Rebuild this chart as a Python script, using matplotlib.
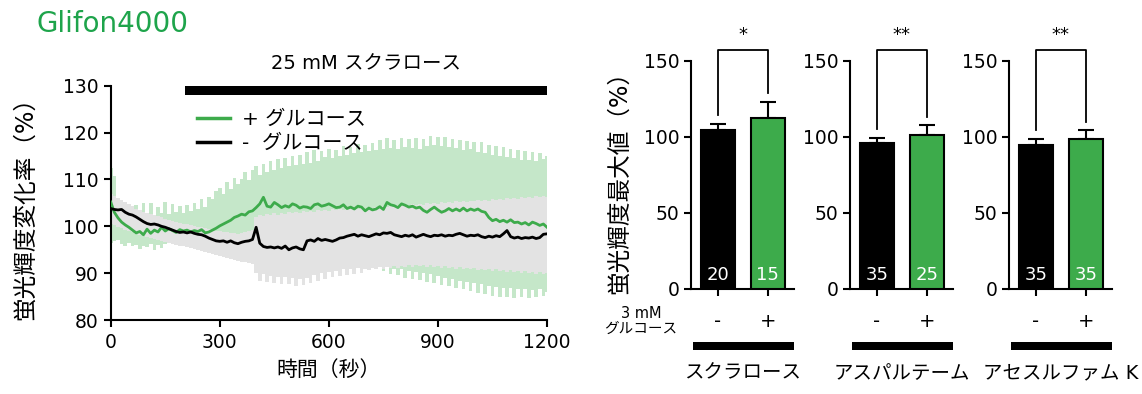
import numpy as np
import matplotlib
matplotlib.use("Agg")
import matplotlib.pyplot as plt

plt.rcParams['font.family'] = ['DejaVu Sans', 'Noto Sans CJK JP']

# ---------------- data ----------------
time_s = list(range(0, 1201, 10))

black_mean = [
    103.8, 103.6, 103.5, 103.6, 103.0, 102.6, 102.4, 102.0, 101.5, 101.0,
    100.6, 100.4, 100.5, 100.3, 100.0, 99.8, 99.5, 99.2, 98.9, 98.7,
    98.8, 98.6, 98.8, 98.5, 98.3, 98.2, 97.9, 97.5, 97.2, 96.9,
    96.8, 96.9, 96.6, 96.9, 96.5, 96.3, 96.6, 96.8, 96.9, 97.2,
    99.8, 96.4, 95.7, 95.5, 95.6, 95.4, 95.6, 95.3, 95.8, 95.0,
    95.4, 95.6, 95.2, 95.0, 96.9, 97.1, 96.8, 97.4, 97.0, 97.2,
    97.0, 96.8, 97.1, 97.5, 97.6, 97.9, 98.1, 98.3, 97.9, 98.2,
    98.0, 97.8, 98.1, 98.4, 98.2, 98.6, 98.5, 98.7, 98.2, 98.0,
    97.8, 98.1, 97.9, 98.2, 97.7, 98.0, 98.3, 98.0, 97.8, 98.1,
    98.0, 98.2, 97.9, 98.1, 98.0, 98.3, 98.5, 98.2, 97.9, 98.1,
    98.0, 98.2, 97.8, 97.6, 97.9, 97.7, 98.0, 97.8, 98.4, 99.1,
    97.8, 97.5, 97.7, 97.4, 97.6, 97.5, 97.7, 97.4, 97.6, 98.3,
    98.4]

green_mean = [
    105.2, 103.0, 101.8, 100.9, 100.3, 99.8, 99.2, 98.6, 98.9, 98.2,
    99.4, 98.5, 99.2, 98.8, 99.8, 99.0, 99.5, 99.1, 98.7, 99.3,
    99.0, 99.2, 98.8, 99.1, 98.9, 99.3, 98.6, 98.8, 99.2, 99.6,
    100.1, 100.5, 100.9, 101.3, 101.9, 102.2, 102.6, 102.4, 103.1, 103.3,
    104.0, 104.8, 106.2, 104.3, 104.1, 105.1, 104.6, 104.0, 104.4, 104.1,
    104.8, 104.5, 103.9, 104.2, 104.1, 103.8, 104.6, 104.8, 104.3, 104.5,
    104.8, 104.4, 104.0, 104.1, 104.6, 103.8, 104.1, 103.7, 104.3, 104.1,
    103.3, 103.9, 103.5, 103.7, 104.2, 103.6, 105.1, 104.6, 104.4, 104.0,
    104.8, 104.5, 104.1, 104.3, 103.9, 104.1, 103.4, 103.0, 103.6, 104.1,
    103.5, 103.0, 103.3, 103.8, 103.3, 103.7, 103.3, 103.9, 103.3, 103.7,
    103.4, 103.7, 103.2, 103.0, 101.9, 101.2, 101.5, 101.0, 101.3, 100.9,
    101.4, 100.8, 100.9, 100.5, 100.8, 100.3, 100.9, 100.6, 100.2, 100.5,
    99.8]

green_upper = [
    112.5, 110.8, 105.5, 104.9, 102.6, 104.3, 102.4, 104.6, 102.2, 104.9,
    102.5, 105.0, 102.4, 104.1, 102.8, 105.1, 102.7, 104.8, 103.0, 104.4,
    102.9, 104.6, 103.2, 104.9, 103.6, 105.8, 104.2, 106.3, 105.8, 107.6,
    108.2, 106.9, 109.5, 108.0, 110.4, 109.1, 110.0, 111.6, 109.8, 112.0,
    112.8, 110.9, 113.4, 111.6, 113.9, 112.0, 114.3, 112.4, 114.6, 112.8,
    115.0, 113.0, 115.2, 113.4, 115.8, 113.6, 116.2, 114.0, 116.1, 114.7,
    116.4, 114.6, 116.3, 115.0, 117.1, 115.2, 116.9, 115.6, 117.5, 115.9,
    117.3, 116.0, 117.8, 116.2, 118.4, 116.5, 118.9, 116.8, 118.5, 116.6,
    118.8, 116.9, 118.6, 116.7, 118.9, 116.6, 118.7, 117.1, 119.3, 117.4,
    119.0, 117.2, 119.1, 116.9, 118.6, 116.8, 118.5, 116.2, 118.2, 116.4,
    118.0, 115.9, 117.9, 115.6, 117.4, 115.3, 117.1, 114.9, 116.9, 114.8,
    116.6, 114.5, 116.3, 114.2, 116.0, 114.1, 115.8, 113.9, 115.6, 114.3,
    115.0]

green_lower = [
    96.5, 96.8, 97.0, 96.2, 95.8, 96.4, 95.7, 96.1, 95.2, 95.9,
    95.5, 96.3, 95.0, 96.0, 95.4, 96.2, 96.8, 96.4, 97.1, 96.7,
    97.2, 96.9, 97.5, 97.1, 97.6, 97.3, 97.8, 97.2, 96.9, 96.5,
    96.0, 95.6, 95.2, 95.0, 94.6, 94.8, 94.3, 94.6, 94.1, 94.4,
    94.0, 94.3, 93.9, 94.2, 93.8, 94.1, 93.7, 94.0, 93.6, 93.9,
    93.5, 93.8, 93.4, 93.7, 93.3, 93.6, 93.2, 93.5, 93.0, 93.4,
    93.0, 92.7, 93.1, 92.6, 92.9, 92.4, 92.8, 92.3, 92.6, 92.1,
    92.6, 91.2, 92.4, 90.9, 92.1, 90.4, 91.5, 89.9, 91.0, 89.6,
    90.8, 89.0, 90.5, 88.8, 90.3, 88.6, 90.1, 88.2, 89.8, 87.9,
    89.4, 87.4, 89.0, 87.2, 88.7, 86.8, 88.4, 86.6, 88.1, 86.2,
    87.9, 85.8, 87.6, 85.5, 87.3, 85.2, 87.0, 84.9, 86.8, 85.0,
    86.9, 84.8, 86.6, 84.9, 86.7, 84.7, 86.4, 85.0, 86.6, 85.1,
    86.0]

black_upper = [
    107.0, 106.5, 106.0, 105.6, 105.2, 104.7, 104.3, 103.8, 103.5, 103.1,
    102.8, 102.6, 102.4, 102.1, 101.9, 101.6, 101.4, 101.1, 100.9, 100.7,
    100.6, 100.4, 100.3, 100.1, 99.9, 99.8, 99.6, 99.4, 99.2, 99.0,
    98.9, 98.8, 98.7, 98.6, 98.5, 98.4, 98.6, 98.8, 99.0, 99.2,
    102.0, 102.4, 102.2, 102.6, 102.4, 102.8, 102.5, 102.9, 102.7, 103.0,
    102.8, 103.1, 102.9, 103.2, 103.0, 103.3, 103.1, 103.4, 103.2, 103.5,
    103.3, 103.6, 103.4, 103.7, 103.5, 103.8, 103.6, 103.9, 103.7, 104.0,
    103.8, 104.1, 103.9, 104.2, 104.0, 104.3, 104.1, 104.4, 104.2, 104.5,
    104.3, 104.6, 104.4, 104.7, 104.5, 104.8, 104.6, 104.9, 104.7, 105.0,
    104.8, 105.1, 104.9, 105.2, 105.0, 105.3, 105.1, 105.4, 105.2, 105.5,
    105.3, 105.6, 105.4, 105.7, 105.5, 105.8, 105.6, 105.9, 105.7, 106.0,
    105.8, 106.1, 105.9, 106.2, 106.0, 106.3, 106.1, 106.4, 106.2, 106.5,
    106.3]

black_lower = [
    100.5, 100.2, 99.9, 99.6, 99.3, 99.0, 98.7, 98.4, 98.2, 97.9,
    97.7, 97.5, 97.3, 97.1, 96.9, 96.7, 96.5, 96.3, 96.1, 95.9,
    95.7, 95.5, 95.3, 95.1, 94.9, 94.7, 94.5, 94.3, 94.1, 93.9,
    93.7, 93.5, 93.3, 93.1, 92.9, 92.7, 92.5, 92.3, 92.1, 91.9,
    90.0, 88.4, 89.8, 88.2, 89.5, 87.9, 89.3, 87.8, 89.1, 87.6,
    88.9, 87.3, 88.8, 87.5, 89.0, 88.0, 89.6, 88.4, 90.0, 88.8,
    90.2, 89.1, 90.5, 89.4, 90.8, 89.6, 91.0, 89.9, 91.1, 90.1,
    91.0, 90.7, 91.2, 90.9, 91.3, 91.0, 91.4, 91.1, 91.5, 91.2,
    91.6, 91.3, 91.7, 91.4, 91.8, 91.5, 91.8, 91.4, 91.7, 91.3,
    91.6, 91.2, 91.5, 91.1, 91.4, 91.0, 91.3, 90.9, 91.2, 90.8,
    91.1, 90.7, 91.0, 90.6, 90.9, 90.5, 90.8, 90.4, 90.7, 90.3,
    90.6, 90.2, 90.5, 90.1, 90.4, 90.0, 90.3, 89.9, 90.2, 89.8,
    90.1]

sucrose_start = 205
sucrose_end = 1200

sweeteners = ['スクラロース', 'アスパルテーム', 'アセスルファム K']
bar_minus = [104.6, 95.8, 94.5]
bar_plus = [112.3, 101.1, 98.3]
err_minus = [3.7, 3.4, 4.2]
err_plus = [10.9, 6.6, 6.1]
n_minus = ['20', '35', '35']
n_plus = ['15', '25', '35']
signif = ['*', '**', '**']

GREEN = '#3dab4b'
GREEN_BAND = '#c5e7c9'
GRAY_BAND = '#e3e3e3'
TITLE_GREEN = '#1ea44b'

W, H = 1142, 394
fig = plt.figure(figsize=(W / 100, H / 100), dpi=100)


def px_axes(x0, y0, x1, y1):
    return fig.add_axes([x0 / W, 1 - y1 / H, (x1 - x0) / W, (y1 - y0) / H])


# ---------------- left time-course ----------------
ax = px_axes(110.7, 85.7, 547, 320.1)
t = np.array(time_s)
ax.fill_between(t, green_lower, green_upper, color=GREEN_BAND, lw=0, step='mid', zorder=1)
ax.fill_between(t, black_lower, black_upper, color=GRAY_BAND, lw=0, step='mid', zorder=2)
ax.plot(t, green_mean, color=GREEN, lw=2.0, zorder=3, label='+ グルコース')
ax.plot(t, black_mean, color='black', lw=2.0, zorder=4, label='-  グルコース')
ax.set_xlim(0, 1200)
ax.set_ylim(80, 130)
ax.set_xticks([0, 300, 600, 900, 1200])
ax.set_yticks([80, 90, 100, 110, 120, 130])
for s in ['top', 'right']:
    ax.spines[s].set_visible(False)
for s in ['left', 'bottom']:
    ax.spines[s].set_linewidth(1.5)
ax.tick_params(width=1.5, length=5, labelsize=13.5, pad=4)
ax.set_xlabel('時間（秒）', fontsize=15, labelpad=6)
fig.text(25 / W, 1 - 203 / H, '蛍光輝度変化率（%）', rotation=90, fontsize=17,
         ha='center', va='center')

ax.fill_between([sucrose_start, sucrose_end], 128.0, 130.0, color='black', lw=0,
                clip_on=False, zorder=5)
ax.text((sucrose_start + sucrose_end) / 2, 134.6, '25 mM スクラロース', fontsize=14,
        ha='center', va='center')
leg = ax.legend(loc='upper left', bbox_to_anchor=(0.18, 0.93), frameon=False,
                fontsize=14.5, handlelength=1.6, handletextpad=0.6, labelspacing=0.25,
                borderaxespad=0)
for h in leg.get_lines():
    h.set_linewidth(2.5)

fig.text(37 / W, 1 - 24 / H, 'Glifon4000', fontsize=20, color=TITLE_GREEN,
         ha='left', va='center')

# ---------------- bar panels ----------------
axis_x = [690.7, 849.7, 1008.7]
unit_px = 50.0
for i in range(3):
    x0 = axis_x[i]
    xl, xr = -0.54, 1.52
    bx = px_axes(x0, 61.0, x0 + (xr - xl) * unit_px, 288.5)
    bx.set_xlim(xl, xr)
    bx.set_ylim(0, 150)
    bx.bar([0, 1], [bar_minus[i], bar_plus[i]], width=0.68,
           color=['black', GREEN], edgecolor='black', linewidth=1.5, zorder=3)
    bx.errorbar([0, 1], [bar_minus[i], bar_plus[i]],
                yerr=[[0, 0], [err_minus[i], err_plus[i]]], fmt='none',
                ecolor='black', elinewidth=1.5, capsize=6, capthick=1.5, zorder=2)
    for s in ['top', 'right']:
        bx.spines[s].set_visible(False)
    for s in ['left', 'bottom']:
        bx.spines[s].set_linewidth(1.5)
    bx.set_yticks([0, 50, 100, 150])
    bx.set_xticks([0, 1])
    bx.set_xticklabels([])
    bx.tick_params(width=1.5, length=5, labelsize=13.5, pad=3)
    # n numbers
    bx.text(0, 9, n_minus[i], color='white', fontsize=13, ha='center', va='center', zorder=4)
    bx.text(1, 9, n_plus[i], color='white', fontsize=13, ha='center', va='center', zorder=4)
    # significance bracket
    top = 157
    lb = bar_minus[i] + err_minus[i] + 6
    rb = bar_plus[i] + err_plus[i] + 5.5
    bx.plot([0, 0, 1, 1], [lb, top, top, rb], color='black', lw=1.3, clip_on=False)
    bx.text(0.5, 167, signif[i], fontsize=13, ha='center', va='center')
    # -/+ labels
    bx.text(0, -21.9, '-', fontsize=14, ha='center', va='center')
    bx.text(1, -21.9, '+', fontsize=14, ha='center', va='center')
    bx.fill_between([xl + 0.04, xr], -40.8, -35.3, color='black', lw=0, clip_on=False)
    bx.text(0.5, -55.8, sweeteners[i], fontsize=14, ha='center', va='center')
    if i == 0:
        bx.text(-1.53, -16.5, '3 mM', fontsize=10.5, ha='center', va='center')
        bx.text(-1.53, -26.0, 'グルコース', fontsize=10.5, ha='center', va='center')

fig.text(619 / W, 1 - 176 / H, '蛍光輝度最大値（%）', rotation=90, fontsize=17,
         ha='center', va='center')

fig.savefig('out.png', dpi=100)
